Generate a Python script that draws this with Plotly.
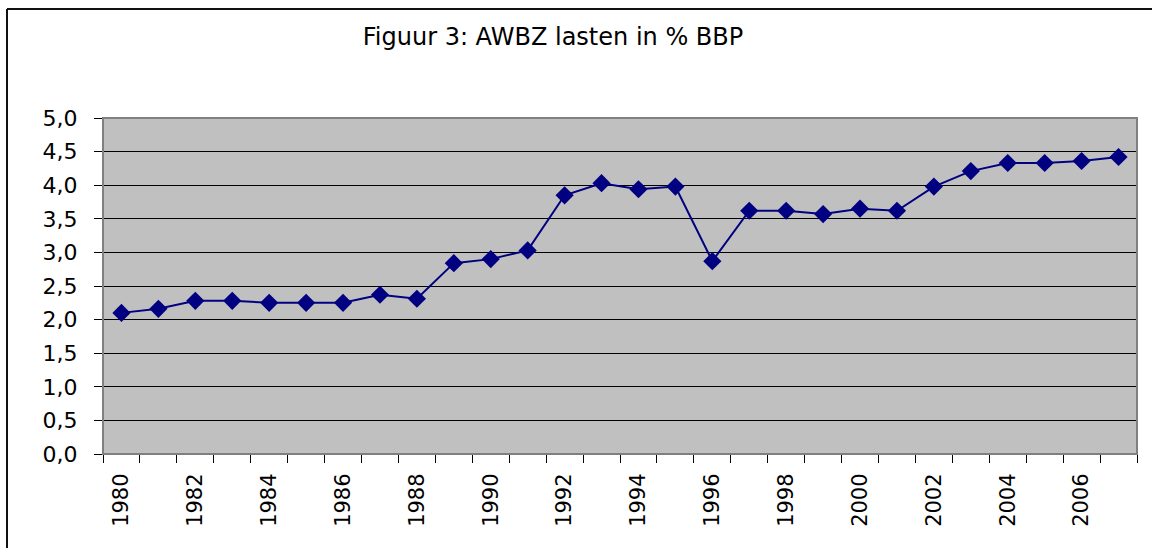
import plotly.graph_objects as go

years = list(range(1980, 2008))
awbz_pct_bbp = [2.10, 2.16, 2.28, 2.28, 2.25, 2.25, 2.25, 2.37, 2.31, 2.84,
                2.90, 3.03, 3.85, 4.03, 3.94, 3.98, 2.87, 3.62, 3.62, 3.57,
                3.65, 3.62, 3.98, 4.21, 4.33, 4.33, 4.36, 4.42]
label_years = [y for y in years if y % 2 == 0]
y_ticks = [0, 0.5, 1, 1.5, 2, 2.5, 3, 3.5, 4, 4.5, 5]

FONT = "DejaVu Sans"
NAVY = "#000080"

W, H = 1152, 548
L, T = 103, 118
pw, ph = 1034, 336
R, B = W - L - pw, H - T - ph

def px_x(p):  # pixel -> paper x
    return (p - L) / pw

def px_y(p):  # pixel -> paper y
    return 1 - (p - T) / ph

fig = go.Figure()
fig.add_trace(go.Scatter(
    x=years, y=awbz_pct_bbp, mode="lines+markers",
    line=dict(color=NAVY, width=2),
    marker=dict(symbol="diamond", size=14, color=NAVY, line=dict(width=0)),
    showlegend=False, hoverinfo="x+y",
))

fig.update_layout(
    width=W, height=H,
    margin=dict(l=L, r=R, t=T, b=B),
    paper_bgcolor="white",
    plot_bgcolor="#c0c0c0",
    separators=",.",
    font=dict(family=FONT, color="black", size=21),
    title=dict(text="Figuur 3: AWBZ lasten in % BBP", x=553 / W, xref="container",
               xanchor="center", y=1 - 37 / H, yref="container", yanchor="middle",
               font=dict(family=FONT, size=24, color="black")),
    xaxis=dict(
        range=[1979.5, 2007.5], tickmode="array", tickvals=label_years,
        ticktext=[str(y) for y in label_years], tickangle=-90,
        ticks="", showgrid=False, zeroline=False,
        showline=True, linecolor="black", linewidth=1,
        tickfont=dict(family=FONT, size=21), ticklabelstandoff=10,
        minor=dict(tick0=1979.5, dtick=1, ticks="outside", ticklen=8,
                   tickcolor="black", tickwidth=1, showgrid=False),
    ),
    yaxis=dict(
        range=[0, 5], tickmode="array", tickvals=y_ticks, tickformat=".1f",
        ticks="outside", ticklen=8, tickcolor="black", tickwidth=1,
        showgrid=True, gridcolor="black", gridwidth=1, zeroline=False,
        showline=True, linecolor="black", linewidth=1,
        tickfont=dict(family=FONT, size=22), ticklabelstandoff=12,
    ),
)

# plot area border (grey)
fig.add_shape(type="rect", xref="paper", yref="paper", x0=0, y0=0, x1=1, y1=1,
              line=dict(color="#808080", width=2), layer="above")
# outer chart frame (top and left, running off the image)
fx, fy = 7, 9
fig.add_shape(type="line", xref="paper", yref="paper",
              x0=px_x(fx), y0=px_y(fy), x1=px_x(1200), y1=px_y(fy),
              line=dict(color="#111111", width=2))
fig.add_shape(type="line", xref="paper", yref="paper",
              x0=px_x(fx), y0=px_y(fy), x1=px_x(fx), y1=px_y(600),
              line=dict(color="#111111", width=2))

fig.write_html(
    "out.html",
    config={"displayModeBar": False},
    post_script="document.body.style.margin='0';document.body.style.overflow='hidden';",
)
